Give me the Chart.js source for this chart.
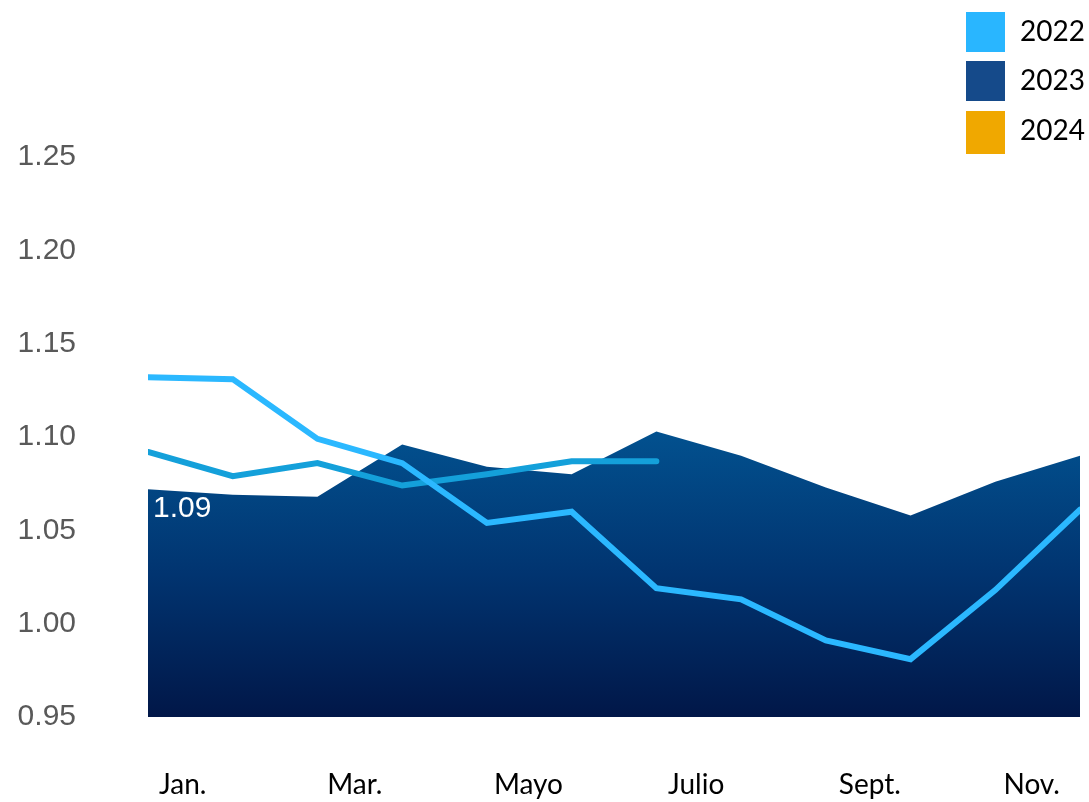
<!DOCTYPE html>
<html><head><meta charset="utf-8">
<script src="https://cdn.jsdelivr.net/npm/chart.js@4.4.1/dist/chart.umd.min.js"></script>
<style>html,body{margin:0;padding:0;background:#fff;overflow:hidden}#wrap{width:1089px;height:802px;position:relative;overflow:hidden}canvas{display:block}</style>
</head><body><div id="wrap"><canvas id="c" width="1089" height="802"></canvas></div>
<script>
const months = ['Jan.','Feb.','Mar.','Abr.','Mayo','Jun.','Julio','Ago.','Sept.','Oct.','Nov.','Dic.'];
const xTickLabels = ['Jan.','Mar.','Mayo','Julio','Sept.','Nov.'];
const xTickPositions = [0.41, 2.44, 4.49, 6.47, 8.52, 10.43];
const seriesNames = ['2022','2023','2024'];
const legendColors = ['#29B6FF','#154A8A','#F0A800'];
const values2022 = [1.132,1.131,1.099,1.086,1.054,1.060,1.019,1.013,0.991,0.981,1.018,1.061];
const values2023 = [1.072,1.069,1.068,1.096,1.084,1.080,1.103,1.090,1.073,1.058,1.076,1.090];
const values2024 = [1.092,1.079,1.086,1.074,1.080,1.087,1.087];
const yTicks = [0.95,1.00,1.05,1.10,1.15,1.20,1.25];
const dataLabelText = '1.09';

const toPts = arr => arr.map((v,i)=>({x:i,y:v}));

const legendPlugin = {
  id:'sideLegend',
  afterDraw(chart){
    const ctx = chart.ctx;
    ctx.save();
    const bx = chart.width - 123, tx = chart.width - 69;
    const tops = [12,61,111];
    seriesNames.forEach((n,i)=>{
      ctx.fillStyle = legendColors[i];
      ctx.fillRect(bx, tops[i], 39, 40 + (i===2?3:0));
      ctx.fillStyle = '#000';
      ctx.font = '28px Lato';
      ctx.textBaseline = 'middle';
      ctx.textAlign = 'left';
      ctx.fillText(n, tx, tops[i] + 20);
    });
    ctx.restore();
  }
};
const dataLabelPlugin = {
  id:'dataLabel',
  afterDatasetsDraw(chart){
    const meta = chart.getDatasetMeta(2);
    const p = meta.data[0];
    if(!p) return;
    const ctx = chart.ctx;
    ctx.save();
    ctx.fillStyle = '#fff';
    ctx.font = '30px "Liberation Sans"';
    ctx.textAlign = 'left';
    ctx.textBaseline = 'middle';
    ctx.fillText(dataLabelText, p.x + 5, p.y + 57);
    ctx.restore();
  }
};

new Chart(document.getElementById('c'), {
  type:'line',
  data:{
    datasets:[
      {label:seriesNames[0], data:toPts(values2022), borderColor:'#2BB8FF', borderWidth:6, pointRadius:0, fill:false, order:0, borderCapStyle:'round', borderJoinStyle:'miter', tension:0},
      {label:seriesNames[1], data:toPts(values2023), borderWidth:0, borderColor:'rgba(0,0,0,0)', pointRadius:0, fill:'start', order:2, tension:0,
        backgroundColor:(c)=>{
          const ch = c.chart, ca = ch.chartArea;
          if(!ca) return '#013a78';
          const ys = ch.scales.y;
          const g = ch.ctx.createLinearGradient(0, ys.getPixelForValue(1.103), 0, ca.bottom);
          g.addColorStop(0,'#02518F');
          g.addColorStop(0.5,'#013470');
          g.addColorStop(1,'#011748');
          return g;
        }},
      {label:seriesNames[2], data:toPts(values2024), borderColor:'#14A0DA', borderWidth:6, pointRadius:0, fill:false, order:1, borderCapStyle:'round', borderJoinStyle:'miter', tension:0}
    ]
  },
  options:{
    responsive:false, animation:false,
    layout:{padding:{top:157,right:9,left:0,bottom:0}},
    plugins:{legend:{display:false}, tooltip:{enabled:false}},
    scales:{
      x:{type:'linear', min:0, max:months.length-1,
        grid:{display:false, drawTicks:false}, border:{display:false},
        afterBuildTicks:(s)=>{ s.ticks = xTickPositions.map(v=>({value:v})); },
        afterFit:(s)=>{ s.height = 85; s.paddingLeft = 0; s.paddingRight = 0; },
        ticks:{padding:51, color:'#000', font:{family:'Lato', size:28}, maxRotation:0, autoSkip:false,
          callback:(v,i)=>xTickLabels[i]}
      },
      y:{min:yTicks[0], max:yTicks[yTicks.length-1],
        grid:{display:false, drawTicks:false}, border:{display:false},
        afterBuildTicks:(s)=>{ s.ticks = yTicks.map(v=>({value:v})); },
        afterFit:(s)=>{ s.width = 148; s.paddingTop = 0; s.paddingBottom = 0; },
        ticks:{padding:72, color:'#595959', font:{family:'Liberation Sans', size:30},
          callback:(v)=>Number(v).toFixed(2)}
      }
    }
  },
  plugins:[legendPlugin, dataLabelPlugin]
});
</script></body></html>
